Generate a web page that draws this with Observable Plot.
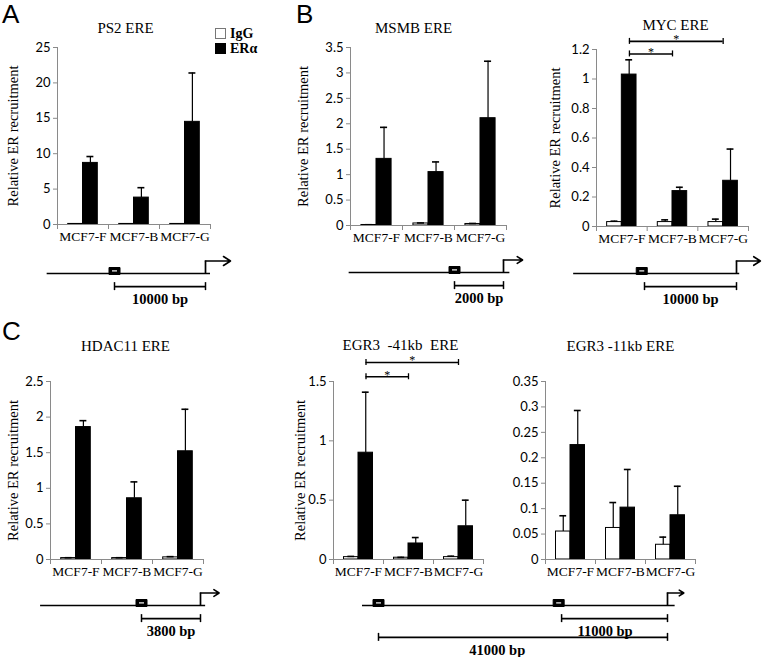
<!DOCTYPE html>
<html><head><meta charset="utf-8">
<script src="https://cdn.jsdelivr.net/npm/d3@7"></script>
<script src="https://cdn.jsdelivr.net/npm/@observablehq/plot@0.6"></script>
<style>
body{margin:0;background:#fff;}
#root{position:relative;width:762px;height:657px;overflow:hidden;background:#fff;}
.letter{position:absolute;font-family:"Liberation Sans",Arial,sans-serif;font-size:26px;line-height:26px;}
.leg{position:absolute;font-family:"Liberation Serif","Times New Roman",serif;font-weight:bold;font-size:14px;line-height:14px;white-space:nowrap;}
.leg span{display:inline-block;width:9px;height:9px;border:1px solid #555;vertical-align:-1px;margin-right:4px;}
</style></head><body><div id="root"></div>
<script>
// ---------- data ----------
const categories = ["MCF7-F", "MCF7-B", "MCF7-G"];
const seriesNames = ["IgG", "ERα"];
const yLabelText = "Relative ER recruitment";

const ps2Title = "PS2 ERE";
const ps2IgG = [0.08, 0.08, 0.08];
const ps2IgGErr = [0, 0, 0];
const ps2ERa = [8.7, 3.8, 14.5];
const ps2ERaErr = [0.9, 1.4, 6.9];
const ps2Ticks = [0, 5, 10, 15, 20, 25];

const msmbTitle = "MSMB ERE";
const msmbIgG = [0.01, 0.04, 0.03];
const msmbIgGErr = [0.005, 0.01, 0.01];
const msmbERa = [1.31, 1.05, 2.11];
const msmbERaErr = [0.62, 0.2, 1.12];
const msmbTicks = [0, 0.5, 1, 1.5, 2, 2.5, 3, 3.5];

const mycTitle = "MYC ERE";
const mycIgG = [0.03, 0.03, 0.03];
const mycIgGErr = [0.006, 0.015, 0.02];
const mycERa = [1.03, 0.24, 0.31];
const mycERaErr = [0.1, 0.026, 0.215];
const mycTicks = [0, 0.2, 0.4, 0.6, 0.8, 1, 1.2];
const mycSig = [{from: "MCF7-F", to: "MCF7-G", y: 1.255, label: "*"}, {from: "MCF7-F", to: "MCF7-B", y: 1.17, label: "*"}];

const hdacTitle = "HDAC11 ERE";
const hdacIgG = [0.02, 0.02, 0.03];
const hdacIgGErr = [0.005, 0.005, 0.01];
const hdacERa = [1.86, 0.86, 1.52];
const hdacERaErr = [0.09, 0.23, 0.59];
const hdacTicks = [0, 0.5, 1, 1.5, 2, 2.5];

const egr41Title = "EGR3\u00a0 -41kb\u00a0 ERE";
const egr41IgG = [0.02, 0.015, 0.02];
const egr41IgGErr = [0.006, 0.003, 0.008];
const egr41ERa = [0.9, 0.135, 0.28];
const egr41ERaErr = [0.51, 0.05, 0.22];
const egr41Ticks = [0, 0.5, 1, 1.5];
const egr41Sig = [{from: "MCF7-F", to: "MCF7-G", y: 1.66, label: "*"}, {from: "MCF7-F", to: "MCF7-B", y: 1.54, label: "*"}];

const egr11Title = "EGR3 -11kb ERE";
const egr11IgG = [0.055, 0.062, 0.029];
const egr11IgGErr = [0.031, 0.05, 0.015];
const egr11ERa = [0.225, 0.102, 0.087];
const egr11ERaErr = [0.068, 0.075, 0.057];
const egr11Ticks = [0, 0.05, 0.1, 0.15, 0.2, 0.25, 0.3, 0.35];

// gene diagrams (positions in bp relative to the TSS)
const ps2Gene = {line: [-17400, 550], ere: [-10000], arrowEnd: 2750, bars: [{from: -10000, to: 0, label: "10000 bp"}]};
const msmbGene = {line: [-6300, 260], ere: [-2000], arrowEnd: 780, bars: [{from: -2000, to: 0, label: "2000 bp"}]};
const mycGene = {line: [-17700, 350], ere: [-10300], arrowEnd: 2600, bars: [{from: -10000, to: 0, label: "10000 bp"}]};
const hdacGene = {line: [-10300, 330], ere: [-3800], arrowEnd: 1200, bars: [{from: -3800, to: 0, label: "3800 bp"}]};
const egr3Gene = {line: [-44000, 350], ere: [-41000, -11400], arrowEnd: 950, bars: [{from: -11000, to: 0, label: "11000 bp"}, {from: -41000, to: 0, label: "41000 bp"}]};

// ---------- drawing ----------
const root = document.getElementById("root");
const SERIF = "Liberation Serif, Times New Roman, serif";
const SANS = "Lato, Open Sans, sans-serif";
const AXIS = "#8a8a8a";

function place(node, left, top) {
  node.querySelectorAll("[font-family]").forEach(el => { el.style.fontFamily = el.getAttribute("font-family"); });
  const div = document.createElement("div");
  div.style.cssText = `position:absolute;left:${left}px;top:${top}px;`;
  div.appendChild(node);
  root.appendChild(div);
}

function barChart(p, d) {
  const mL = 62, mR = 18, mT = 56, mB = 34;
  const W = p.x1 - p.x0 + mL + mR;
  const H = p.yZero - p.yTop + mT + mB;
  const unitPx = (p.yZero - p.yTop) / d.yMax;
  const rows = categories.flatMap((c, i) => [
    {i, s: seriesNames[0], v: d.igg[i], e: d.iggErr[i]},
    {i, s: seriesNames[1], v: d.era[i], e: d.eraErr[i]}
  ]);
  const bw = 0.29;
  const off = r => (r.s === seriesNames[0] ? 0.5 - bw : 0.5);
  const cx = r => r.i + off(r) + bw / 2;
  const cap = 0.068;
  const marks = [
    Plot.rect(rows, {x1: r => r.i + off(r), x2: r => r.i + off(r) + bw, y1: 0, y2: "v",
      fill: r => (r.s === seriesNames[0] ? "white" : "black"), stroke: "black", strokeWidth: 1}),
    Plot.ruleX(rows, {x: cx, y1: "v", y2: r => r.v + r.e, stroke: "black", strokeWidth: 1.2}),
    Plot.ruleY(rows, {y: r => r.v + r.e, x1: r => cx(r) - cap, x2: r => cx(r) + cap, stroke: "black", strokeWidth: 1.6}),
    Plot.ruleY([0], {stroke: AXIS}),
    Plot.ruleX([0], {stroke: AXIS}),
    Plot.axisY(d.ticks, {tickSize: 4, tickPadding: 3, stroke: AXIS, fill: "black", fontSize: 13, fontFamily: SANS, tickFormat: v => String(v), label: null}),
    Plot.axisX([0, 1, 2, 3], {tickSize: 5, stroke: AXIS, tickFormat: () => "", label: null}),
    Plot.text(categories, {x: (c, i) => i + 0.5, frameAnchor: "bottom", dy: 16, fontFamily: SERIF, fontSize: 13.5, fill: "black"}),
    Plot.text([d.title], {frameAnchor: "top", dx: p.titleX - (p.x0 + p.x1) / 2, dy: p.titleY - p.yTop, fontFamily: SERIF, fontSize: 15, fill: "black"})
  ];
  if (p.labelX != null) {
    marks.push(Plot.text([yLabelText], {frameAnchor: "left", textAnchor: "middle", rotate: -90, dx: p.labelX - p.x0, fontFamily: SERIF, fontSize: 14.5, fill: "black"}));
  }
  if (d.sig) {
    const bx1 = b => categories.indexOf(b.from) + 0.65;
    const bx2 = b => categories.indexOf(b.to) + 0.5;
    const capH = 3 / unitPx;
    marks.push(
      Plot.ruleY(d.sig, {y: "y", x1: bx1, x2: bx2, stroke: "black", strokeWidth: 1.6}),
      Plot.ruleX(d.sig, {x: bx1, y1: b => b.y - capH, y2: b => b.y + capH, stroke: "black", strokeWidth: 1.3}),
      Plot.ruleX(d.sig, {x: bx2, y1: b => b.y - capH, y2: b => b.y + capH, stroke: "black", strokeWidth: 1.3}),
      Plot.text(d.sig, {x: b => (bx1(b) + bx2(b)) / 2, y: "y", text: "label", dy: -2, fontFamily: SERIF, fontSize: 12, fill: "black"})
    );
  }
  const svg = Plot.plot({
    width: W, height: H, marginLeft: mL, marginRight: mR, marginTop: mT, marginBottom: mB,
    x: {domain: [0, 3]}, y: {domain: [0, d.yMax]},
    style: {background: "transparent", overflow: "visible", fontFamily: SANS, fontSize: "13px", color: "black", maxWidth: "none"},
    marks
  });
  place(svg, p.x0 - mL, p.yTop - mT);
}

const ereBox = {draw(ctx) { ctx.moveTo(-5.5, -6); ctx.lineTo(5.5, -6); ctx.lineTo(5.5, 1); ctx.lineTo(-5.5, 1); ctx.closePath(); }};
const ereDash = {draw(ctx) { ctx.moveTo(-2.5, -3.2); ctx.lineTo(2.5, -3.2); ctx.lineTo(2.5, -2); ctx.lineTo(-2.5, -2); ctx.closePath(); }};

function diagram(p, g) {
  const H = 75;
  const tracks = g.bars.map((b, k) => ({...b, t: -(1.05 + 1.5 * k)}));
  const xScale = {domain: p.anchorsBp, range: p.anchorsPx.map(v => v - p.left), axis: null};
  if (p.exponent) Object.assign(xScale, {type: "pow", exponent: p.exponent});
  const svg = Plot.plot({
    width: p.width, height: H, margin: 0,
    x: xScale,
    y: {domain: [-4, 2], range: [H, 0], axis: null},
    style: {background: "transparent", overflow: "visible", maxWidth: "none"},
    marks: [
      Plot.ruleY([0], {x1: g.line[0], x2: g.line[1], stroke: "black", strokeWidth: 1.7}),
      Plot.ruleX([0], {y1: 0, y2: 1, stroke: "black", strokeWidth: 1.7}),
      Plot.arrow([g.arrowEnd], {x1: 0, x2: d => d, y1: 1, y2: 1, stroke: "black", strokeWidth: 1.6, headLength: 10, headAngle: 65}),
      Plot.dot(g.ere, {x: d => d, y: 0, symbol: ereBox, fill: "black", stroke: "black", strokeWidth: 1}),
      Plot.dot(g.ere, {x: d => d, y: 0, symbol: ereDash, fill: "white", stroke: "none"}),
      Plot.ruleY(tracks, {y: "t", x1: "from", x2: "to", stroke: "black", strokeWidth: 1.7}),
      Plot.ruleX(tracks, {x: "from", y1: b => b.t - 0.32, y2: b => b.t + 0.32, stroke: "black", strokeWidth: 1.5}),
      Plot.ruleX(tracks, {x: "to", y1: b => b.t - 0.32, y2: b => b.t + 0.32, stroke: "black", strokeWidth: 1.5}),
      Plot.text(tracks, {x: b => (b.from + b.to) / 2, y: "t", text: "label", dy: 13, fontFamily: SERIF, fontWeight: "bold", fontSize: 14.5, fill: "black"})
    ]
  });
  place(svg, p.left, p.lineY - 25);
}

barChart({x0: 57, x1: 210, yTop: 47, yZero: 224, titleX: 125, titleY: 22, labelX: 13},
  {igg: ps2IgG, iggErr: ps2IgGErr, era: ps2ERa, eraErr: ps2ERaErr, ticks: ps2Ticks, yMax: 25, title: ps2Title});
barChart({x0: 350, x1: 506, yTop: 47, yZero: 225, titleX: 413, titleY: 22, labelX: 303},
  {igg: msmbIgG, iggErr: msmbIgGErr, era: msmbERa, eraErr: msmbERaErr, ticks: msmbTicks, yMax: 3.5, title: msmbTitle});
barChart({x0: 596, x1: 748, yTop: 49, yZero: 226, titleX: 675, titleY: 19, labelX: 555},
  {igg: mycIgG, iggErr: mycIgGErr, era: mycERa, eraErr: mycERaErr, ticks: mycTicks, yMax: 1.2, title: mycTitle, sig: mycSig});
barChart({x0: 50, x1: 203, yTop: 381, yZero: 559, titleX: 125, titleY: 340, labelX: 13},
  {igg: hdacIgG, iggErr: hdacIgGErr, era: hdacERa, eraErr: hdacERaErr, ticks: hdacTicks, yMax: 2.5, title: hdacTitle});
barChart({x0: 333, x1: 483, yTop: 381, yZero: 559, titleX: 400, titleY: 339, labelX: 300},
  {igg: egr41IgG, iggErr: egr41IgGErr, era: egr41ERa, eraErr: egr41ERaErr, ticks: egr41Ticks, yMax: 1.5, title: egr41Title, sig: egr41Sig});
barChart({x0: 545, x1: 695, yTop: 381, yZero: 559, titleX: 620, titleY: 340, labelX: null},
  {igg: egr11IgG, iggErr: egr11IgGErr, era: egr11ERa, eraErr: egr11ERaErr, ticks: egr11Ticks, yMax: 0.35, title: egr11Title});

diagram({left: 30, width: 220, lineY: 273, anchorsBp: [-10000, 0], anchorsPx: [114, 205]}, ps2Gene);
diagram({left: 330, width: 210, lineY: 272, anchorsBp: [-2000, 0], anchorsPx: [454, 503]}, msmbGene);
diagram({left: 560, width: 202, lineY: 273, anchorsBp: [-10000, 0], anchorsPx: [644, 736]}, mycGene);
diagram({left: 20, width: 220, lineY: 605, anchorsBp: [-3800, 0], anchorsPx: [141, 200]}, hdacGene);
diagram({left: 340, width: 360, lineY: 605, anchorsBp: [-41000, 0], anchorsPx: [378, 667], exponent: 0.763}, egr3Gene);

// panel letters and legend
for (const [t, x, y] of [["A", 2, 1], ["B", 296, 1], ["C", 2, 318]]) {
  const el = document.createElement("div");
  el.className = "letter"; el.textContent = t;
  el.style.left = x + "px"; el.style.top = y + "px";
  root.appendChild(el);
}
seriesNames.forEach((s, k) => {
  const el = document.createElement("div");
  el.className = "leg";
  el.style.left = "215px"; el.style.top = (27 + 15 * k) + "px";
  const sw = document.createElement("span");
  sw.style.background = k === 0 ? "white" : "black";
  sw.style.borderColor = k === 0 ? "#777" : "black";
  el.appendChild(sw);
  el.appendChild(document.createTextNode(s));
  root.appendChild(el);
});
</script></body></html>
